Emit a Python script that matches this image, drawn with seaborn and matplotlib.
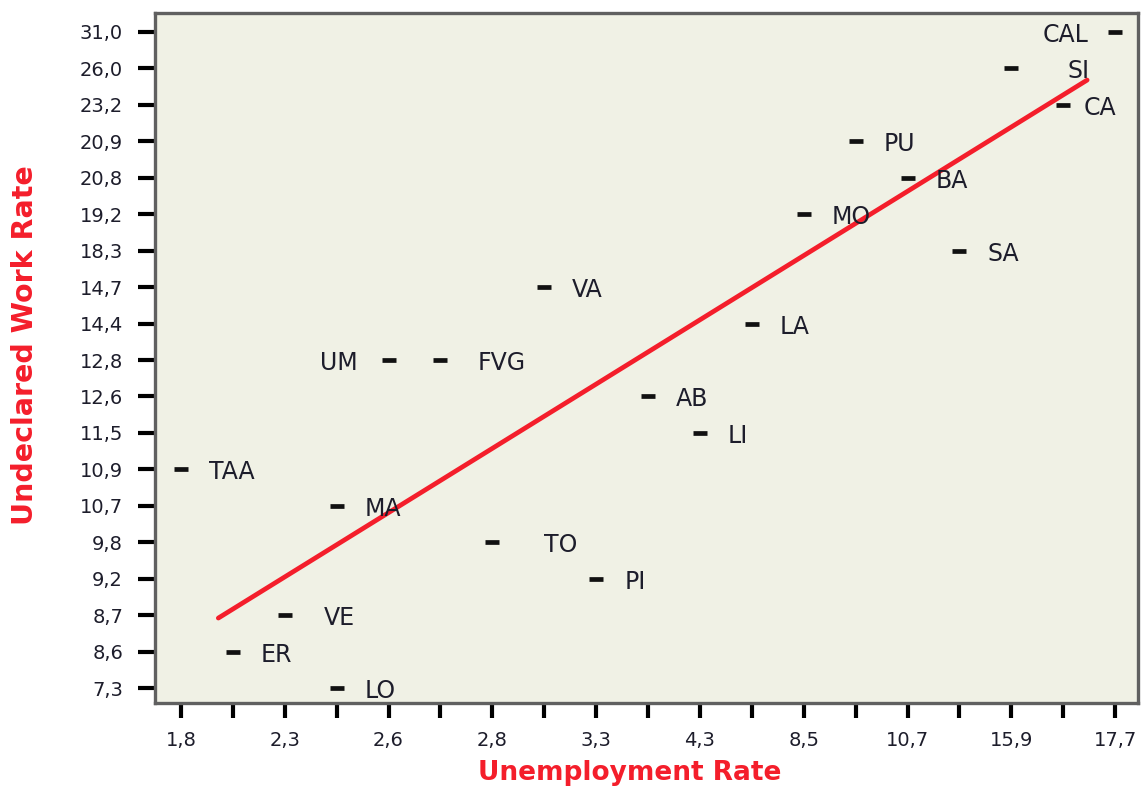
import numpy as np
import pandas as pd
import matplotlib
matplotlib.use("Agg")
import matplotlib.pyplot as plt
import seaborn as sns

# ---------------- data ----------------
regions = ["TAA", "ER", "VE", "MA", "LO", "UM", "FVG", "TO", "VA", "PI",
           "AB", "LI", "LA", "MO", "PU", "BA", "SA", "SI", "CA", "CAL"]
# ordinal position of each region on the unemployment axis
unemployment_rank = [0, 0.5, 1, 1.5, 1.5, 2, 2.5, 3, 3.5, 4,
                     4.5, 5, 5.5, 6, 6.5, 7, 7.5, 8, 8.5, 9]
undeclared_rate = [10.9, 8.6, 8.7, 10.7, 7.3, 12.8, 12.8, 9.8, 14.7, 9.2,
                   12.6, 11.5, 14.4, 19.2, 20.9, 20.8, 18.3, 26.0, 23.2, 31.0]
unemployment_ticks = ["1,8", "2,3", "2,6", "2,8", "3,3", "4,3",
                      "8,5", "10,7", "15,9", "17,7"]
# trend line (ordinal axis units)
trend_x = [0.36, 8.73]
trend_y = [1.92, 16.68]

# ---------------- build table ----------------
y_levels = sorted(set(undeclared_rate))
df = pd.DataFrame({
    "region": regions,
    "x": unemployment_rank,
    "y": [y_levels.index(v) for v in undeclared_rate],
})
trend = pd.DataFrame({"x": trend_x, "y": trend_y})

# ---------------- style ----------------
sns.set_theme(style="white")
plt.rcParams["font.family"] = ["DejaVu Sans"]

RED = "#F41E2B"
INK = "#1d1d2b"

fig = plt.figure(figsize=(11.45, 7.96), dpi=100)
ax = fig.add_axes([155 / 1145, 1 - 703 / 796, (1138 - 155) / 1145, (703 - 13) / 796])
ax.set_facecolor("#F0F1E5")

sns.lineplot(data=trend, x="x", y="y", ax=ax, color=RED, linewidth=3.4,
             zorder=2, legend=False)
sns.scatterplot(data=df, x="x", y="y", ax=ax, marker="_", s=100,
                linewidth=3.4, color="#111111", zorder=3, legend=False)

# region labels
offsets = {"UM": (-31, "right"), "CAL": (-27, "right"), "SI": (56, "left"),
           "TO": (52, "left"), "CA": (20, "left"), "FVG": (37, "left"),
           "VE": (39, "left")}
for _, r in df.iterrows():
    dx, ha = offsets.get(r["region"], (28, "left"))
    ax.annotate(r["region"], (r["x"], r["y"]), xytext=(dx, -3),
                textcoords="offset pixels", ha=ha, va="center",
                fontsize=17, color=INK, zorder=4)

# axes limits and ticks
ax.set_xlim(-0.25, 9.22)
ax.set_ylim(-0.41, 18.52)
ax.set_xticks(np.arange(len(unemployment_ticks)))
ax.set_xticklabels(unemployment_ticks)
ax.set_xticks(np.arange(0.5, len(unemployment_ticks) - 1, 0.5), minor=True)
ax.set_yticks(np.arange(len(y_levels)))
ax.set_yticklabels([f"{v:.1f}".replace(".", ",") for v in y_levels])

ax.tick_params(axis="x", which="both", direction="out", length=11, width=3,
               color="#000000", bottom=True, pad=9)
ax.tick_params(axis="x", which="major", labelsize=14, labelcolor=INK)
ax.tick_params(axis="y", which="major", direction="out", length=12, width=3,
               color="#000000", left=True, pad=11, labelsize=14, labelcolor=INK)

for s in ax.spines.values():
    s.set_visible(True)
    s.set_color("#606060")
    s.set_linewidth(2.4)

ax.set_xlabel("Unemployment Rate", fontsize=19, fontweight="bold", color=RED)
ax.set_ylabel("Undeclared Work Rate", fontsize=20.5, fontweight="bold", color=RED)
ax.xaxis.set_label_coords(0.483, -0.083)
ax.yaxis.set_label_coords(-0.118, 0.519)

fig.savefig("out.png", dpi=100, facecolor="white")
